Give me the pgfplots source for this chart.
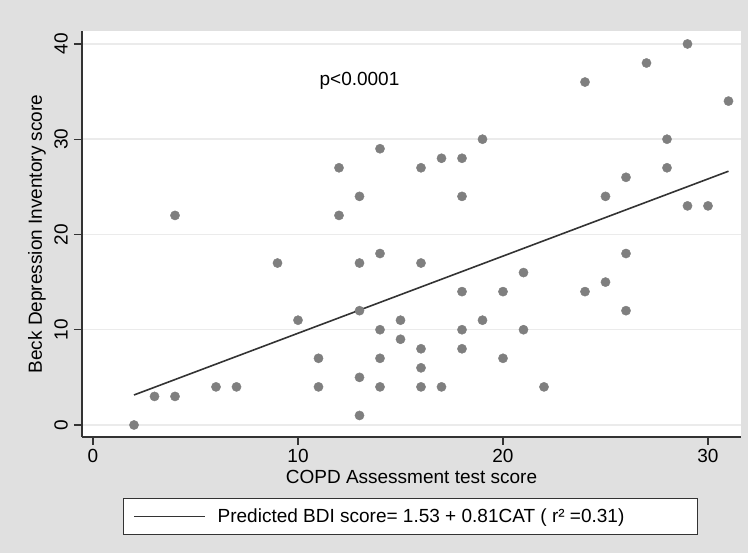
\documentclass[border=0pt]{standalone}
\usepackage{fontspec}
\setmainfont{Liberation Sans}
\usepackage{pgfplots}
\pgfplotsset{compat=1.18}
\definecolor{bggray}{HTML}{E0E0E0}
\definecolor{dotgray}{HTML}{7F7F7F}
\definecolor{gridgray}{HTML}{EBEBEB}
\definecolor{axgray}{HTML}{333333}

\pgfplotstableread{
x y
2 0
3 3
4 3
4 22
6 4
7 4
9 17
10 11
11 7
11 4
12 27
12 22
13 24
13 17
13 12
13 5
13 1
14 29
14 18
14 10
14 7
14 4
15 11
15 9
16 27
16 17
16 8
16 6
16 4
17 28
17 4
18 28
18 24
18 14
18 10
18 8
19 30
19 11
20 14
20 7
21 16
21 10
22 4
24 36
24 14
25 24
25 15
26 26
26 18
26 12
27 38
28 30
28 27
29 40
29 23
30 23
31 34
}\catdata

\begin{document}
\begin{tikzpicture}
\fill[bggray] (0,0) rectangle (748pt,553pt);
\begin{axis}[
  at={(82pt,116pt)}, anchor=south west,
  scale only axis, width=659pt, height=406pt,
  xmin=-0.537, xmax=31.61, ymin=-1.26, ymax=41.36,
  axis x line*=bottom, axis y line*=left,
  axis line style={axgray, line width=1.2pt},
  axis background/.style={fill=white},
  xtick={0,10,20,30}, ytick={0,10,20,30,40},
  tick align=outside, major tick length=8pt,
  tick style={axgray, line width=1.2pt},
  ymajorgrids, grid style={gridgray, line width=1.5pt},
  font=\fontsize{19}{21}\selectfont,
  /pgf/number format/assume math mode=true,
  yticklabel style={rotate=90, anchor=south, inner sep=6pt},
  xticklabel style={anchor=north, inner sep=4.5pt},
  xlabel={COPD Assessment test score},
  ylabel={Beck Depression Inventory score},
  every axis x label/.style={at={(axis description cs:0.5,-0.098)}, anchor=center},
  every axis y label/.style={at={(axis description cs:-0.0683,0.5)}, rotate=90, anchor=center},
  legend style={at={(axis description cs:0.4985,-0.1958)}, anchor=center,
    draw=axgray, line width=1pt, fill=white, inner xsep=10pt, inner ysep=10pt,
    nodes={inner sep=0pt}, column sep=12pt},
  legend image code/.code={\draw[#1, line width=1.3pt] (0pt,0pt) -- (71pt,0pt);},
]
\addplot[only marks, mark=*, mark size=4.6pt, dotgray, mark options={draw=dotgray, fill=dotgray}, forget plot] table[x=x, y=y] {\catdata};
\addplot[axgray, line width=1.6pt] coordinates {(2,3.15) (31,26.64)};
\addlegendentry{\makebox[470pt][l]{Predicted BDI score= 1.53 + 0.81CAT ( r² =0.31)}}
\node at (axis cs:13,36.1) {p<0.0001};
\end{axis}
\end{tikzpicture}
\end{document}
